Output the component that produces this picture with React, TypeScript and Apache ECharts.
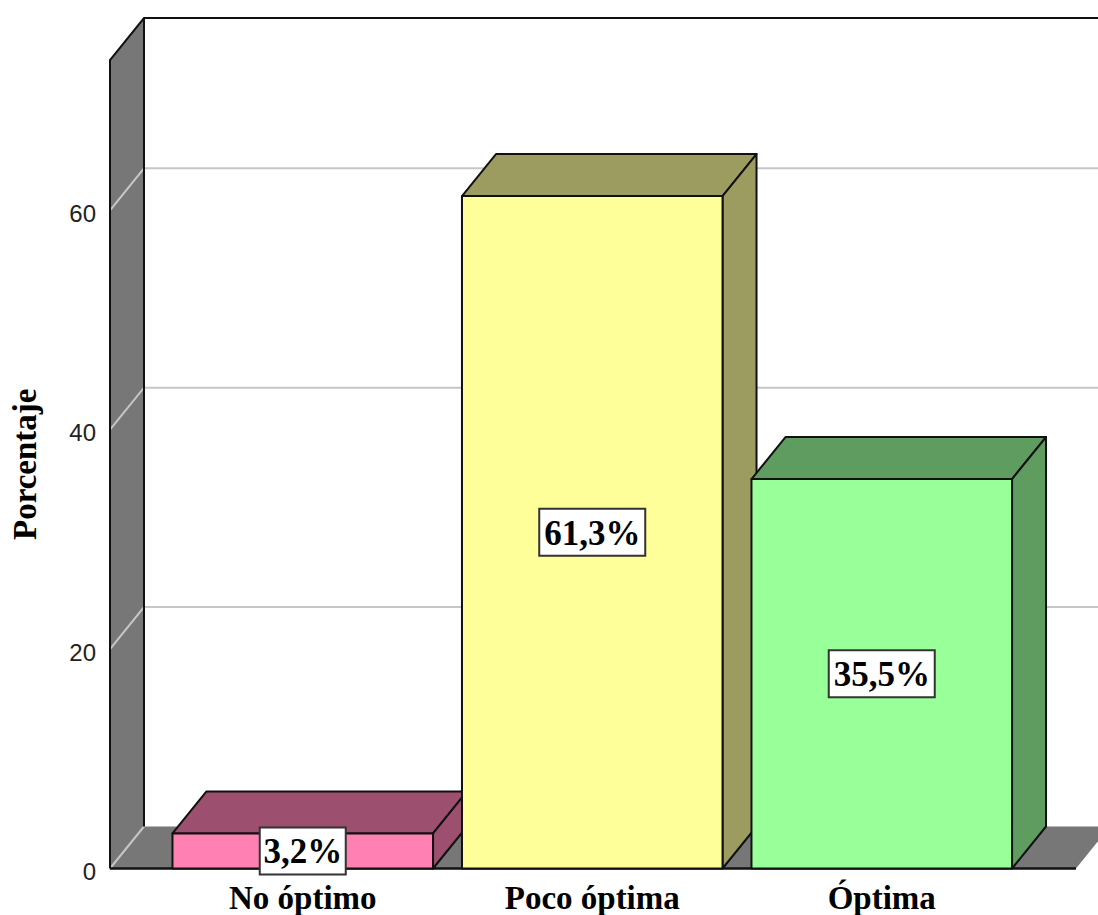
import React, { useEffect, useRef } from "react";
import * as echarts from "echarts";

const categories = ["No óptimo", "Poco óptima", "Óptima"];
const percentages = [3.2, 61.3, 35.5];
const valueLabels = ["3,2%", "61,3%", "35,5%"];
const gridTicks = [0, 20, 40, 60];
const faceColors = ["#FF80B3", "#FFFF99", "#99FF99"];
const shadeColors = ["#9C4F6E", "#9C9C60", "#5F9C5F"];

const WIDTH = 1098;
const HEIGHT = 915;
const GRID_LEFT = 158;
const GRID_WIDTH = 868.5;
const GRID_TOP = 60;
const GRID_BOTTOM = 46.5;
const AXIS_MAX = 73.7;
const WALL_LEFT = 110;
const FLOOR_RIGHT = 1076;
const DEPTH_X = 34;
const DEPTH_Y = 42;
const WALL_GREY = "#777777";
const GRID_GREY = "#C6C6C6";
const EDGE = "#111111";
const SERIF = '"Liberation Serif", serif';
const SANS = '"Liberation Sans", sans-serif';

// Side wall, floor and back wall of the 3D box, with the gridlines running round it.
function renderFrame(_params: any, api: any) {
  const top = api.coord([0, AXIS_MAX])[1];
  const base = api.coord([0, 0])[1];
  const backX = WALL_LEFT + DEPTH_X;
  const children: any[] = [
    {
      type: "polygon",
      shape: { points: [[WALL_LEFT, top], [backX, top - DEPTH_Y], [backX, base - DEPTH_Y], [WALL_LEFT, base]] },
      style: { fill: WALL_GREY },
    },
    {
      type: "polygon",
      shape: { points: [[WALL_LEFT, base], [FLOOR_RIGHT, base], [FLOOR_RIGHT + DEPTH_X, base - DEPTH_Y], [backX, base - DEPTH_Y]] },
      style: { fill: WALL_GREY },
    },
  ];
  gridTicks.forEach((t) => {
    const y = api.coord([0, t])[1];
    children.push({
      type: "polyline",
      shape: { points: [[WALL_LEFT, y], [backX, y - DEPTH_Y]].concat(t > 0 ? [[WIDTH, y - DEPTH_Y]] : []) },
      style: { fill: "none", stroke: GRID_GREY, lineWidth: 2 },
    });
  });
  children.push(
    {
      type: "polyline",
      shape: { points: [[WALL_LEFT, base], [WALL_LEFT, top], [backX, top - DEPTH_Y], [WIDTH, top - DEPTH_Y]] },
      style: { fill: "none", stroke: EDGE, lineWidth: 2 },
    },
    {
      type: "line",
      shape: { x1: backX, y1: top - DEPTH_Y, x2: backX, y2: base - DEPTH_Y },
      style: { stroke: EDGE, lineWidth: 2 },
    },
    {
      type: "line",
      shape: { x1: WALL_LEFT, y1: base, x2: FLOOR_RIGHT, y2: base },
      style: { stroke: EDGE, lineWidth: 2.5 },
    }
  );
  return { type: "group", children };
}

// One extruded bar: front face, top and right side, then its boxed value label.
function renderBar(params: any, api: any) {
  const i = params.dataIndex;
  const [cx, yTop] = api.coord([api.value(0), api.value(1)]);
  const yBase = api.coord([api.value(0), 0])[1];
  const w = api.size([1, 0])[0] * 0.9;
  const x0 = cx - w / 2;
  const x1 = cx + w / 2;
  const edge = { stroke: EDGE, lineWidth: 2, lineJoin: "round" };
  const labelText = valueLabels[i];
  const boxW = labelText.length === 4 ? 86 : 106;
  const boxH = 47;
  const midY = (yTop + yBase) / 2;
  return {
    type: "group",
    children: [
      {
        type: "polygon",
        shape: { points: [[x0, yTop], [x0 + DEPTH_X, yTop - DEPTH_Y], [x1 + DEPTH_X, yTop - DEPTH_Y], [x1, yTop]] },
        style: { fill: shadeColors[i], ...edge },
      },
      {
        type: "polygon",
        shape: { points: [[x1, yTop], [x1 + DEPTH_X, yTop - DEPTH_Y], [x1 + DEPTH_X, yBase - DEPTH_Y], [x1, yBase]] },
        style: { fill: shadeColors[i], ...edge },
      },
      {
        type: "rect",
        shape: { x: x0, y: yTop, width: w, height: yBase - yTop },
        style: { fill: faceColors[i], ...edge },
      },
      {
        type: "rect",
        shape: { x: cx - boxW / 2, y: midY - boxH / 2, width: boxW, height: boxH },
        style: { fill: "#FFFFFF", stroke: "#333333", lineWidth: 2 },
      },
      {
        type: "text",
        x: cx,
        y: midY + 1,
        style: {
          text: labelText,
          font: `bold 35px ${SERIF}`,
          fill: "#000000",
          align: "center",
          verticalAlign: "middle",
        },
      },
    ],
  };
}

export default function App() {
  const ref = useRef<HTMLDivElement>(null);

  useEffect(() => {
    document.body.style.margin = "0";
    const chart = echarts.init(ref.current!, null, { renderer: "svg" });
    chart.setOption({
      animation: false,
      backgroundColor: "#FFFFFF",
      grid: {
        left: GRID_LEFT,
        top: GRID_TOP,
        width: GRID_WIDTH,
        bottom: GRID_BOTTOM,
        containLabel: false,
        outerBoundsMode: "none",
      },
      xAxis: {
        type: "category",
        data: categories,
        axisLine: { show: false },
        axisTick: { show: false },
        axisLabel: {
          margin: 13,
          color: "#000000",
          fontFamily: SERIF,
          fontWeight: "bold",
          fontSize: 33,
          lineHeight: 33,
        },
      },
      yAxis: {
        type: "value",
        min: 0,
        max: AXIS_MAX,
        interval: 20,
        offset: GRID_LEFT - WALL_LEFT,
        name: "Porcentaje",
        nameLocation: "middle",
        nameGap: 69,
        nameRotate: 90,
        nameTextStyle: {
          color: "#000000",
          fontFamily: SERIF,
          fontWeight: "bold",
          fontSize: 33,
        },
        axisLine: { show: false },
        axisTick: { show: false },
        splitLine: { show: false },
        axisLabel: {
          margin: 14,
          showMaxLabel: false,
          color: "#222222",
          fontFamily: SANS,
          fontSize: 24,
          verticalAlign: "top",
          lineHeight: 6,
        },
      },
      series: [
        {
          type: "custom",
          silent: true,
          clip: false,
          z: 1,
          renderItem: renderFrame,
          data: [[0, 0]],
          encode: { x: 0, y: 1 },
        },
        {
          type: "custom",
          silent: true,
          clip: false,
          z: 2,
          renderItem: renderBar,
          data: percentages.map((v, i) => [i, v]),
          encode: { x: 0, y: 1 },
        },
      ],
    });
    return () => chart.dispose();
  }, []);

  return <div ref={ref} style={{ width: WIDTH, height: HEIGHT }} />;
}
